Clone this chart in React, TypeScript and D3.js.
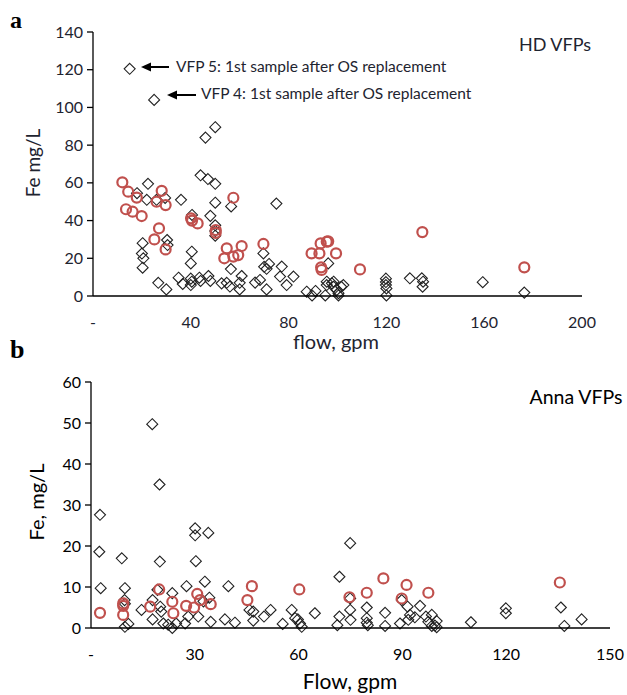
import React from "react";
import * as d3 from "d3";

// ---------- Panel a: HD VFPs ----------
const hdDiamonds: [number, number][] = [
  [15, 120.5], [25, 104], [46, 84], [50, 89.5],
  [44, 64], [47, 62], [50, 59.5], [22.5, 59.5],
  [18, 54.5], [22, 51], [26, 51], [29.5, 52], [36, 51], [50, 49.5],
  [48, 42.5], [40.5, 43], [50, 37.5], [50, 34.5], [50, 32],
  [56.5, 47.5], [75, 49],
  [20.3, 28], [20, 22.5], [20.6, 20], [20.3, 15],
  [30.3, 29.7], [30.5, 27], [40.4, 23.5], [40, 17.3],
  [26.7, 7], [30, 3.5],
  [35, 9.7], [36.7, 6.4], [40, 5.8], [40.4, 7.6], [40, 9.2], [43.5, 9.7], [47.2, 10.6], [48, 8], [44, 8],
  [52.6, 6.7], [54.7, 7], [56, 5], [56.4, 14.3], [60.8, 10.6], [60, 7], [60, 3.5],
  [66.3, 7.1], [68.3, 8.5], [69.7, 22.6], [70, 15.5], [71, 14.4], [72, 17], [71, 3.5],
  [76.5, 10.3], [77.2, 15.6], [79.2, 5.8], [82, 10.3],
  [87.4, 2.3], [89.6, 0.3], [91, 2.7],
  [96.2, 17.3], [95, 0.3], [95.6, 5.8], [95.6, 7.6], [97.7, 6.7], [98.4, 4.9], [98.4, 7.6],
  [99.7, 3.2], [100.4, 1.5], [100.4, 0.3], [101.5, 4.9], [102.4, 5.8],
  [119.8, 9.2], [119.8, 7.4], [119.8, 5.8], [120, 4], [120, 0.3],
  [129.6, 9.4], [134.5, 9.4], [135, 7.6], [134.8, 4.9],
  [159.4, 7.3], [176.4, 1.8],
];

const hdCircles: [number, number][] = [
  [12, 60.3], [14.4, 55.3], [17.9, 52.2], [13.5, 46], [16.2, 44.7], [19.9, 42.4],
  [28.1, 55.8], [26, 50], [29.7, 48.2], [27, 35.9], [25.1, 30], [29.7, 24.7],
  [40.1, 41.2], [40.5, 40], [42.8, 38.5], [50.2, 35], [50.2, 33.5],
  [57.4, 52.1], [54.7, 25.3], [53.7, 20], [57.4, 20.9], [59.4, 21.7], [60.8, 26.5],
  [69.7, 27.6],
  [89.4, 22.6], [92.6, 22.6], [93.1, 27.9], [95.6, 28.8], [96.2, 29], [99.4, 22.6],
  [93.3, 15.2], [93.5, 13.8], [109.2, 14.1], [134.7, 33.9], [176.4, 15.2],
];

const hdYTicks = [0, 20, 40, 60, 80, 100, 120, 140];
const hdXTicks = [0, 40, 80, 120, 160, 200];

// ---------- Panel b: Anna VFPs ----------
const annaDiamonds: [number, number][] = [
  [17.7, 49.7], [19.8, 35],
  [2.6, 27.6], [2.4, 18.6], [2.8, 9.7], [8.9, 17], [9.8, 9.7], [9.7, 6.8], [9.8, 5.9],
  [9.8, 0.3], [10.8, 1], [14.6, 4.4], [17.8, 2.1], [19.9, 16.2], [17.8, 6.8], [19.2, 9.3],
  [20, 5.2], [20.3, 4], [20.9, 1.1], [23.5, 8.5], [23.5, 0], [22.3, 0.8], [24.6, 1.1],
  [27.6, 10.2], [27.2, 1.1], [28.1, 2.8], [30.1, 24.3], [30.1, 22.6], [30.3, 16.3],
  [31, 2.8], [32.9, 11.3], [33.9, 23.2], [34.2, 7.4], [32.5, 6.5], [34.6, 1.5],
  [38.7, 2.1], [39.7, 10.2], [41.6, 1.3], [45.8, 4.4], [46.9, 4], [46.9, 1.8],
  [50, 2.8], [51.9, 4.4], [55.4, 1], [58, 4.4], [59, 2.4], [59.8, 2.1], [60.4, 1.1],
  [60.9, 0.3], [64.7, 3.6],
  [74.9, 20.7], [71.8, 12.5], [74.9, 7.2], [74.9, 4.4], [75, 2], [71.8, 2.8], [71.2, 0.7],
  [79.7, 5], [79.7, 2.4], [79.7, 1.3], [80, 0.7], [85, 3.7], [85, 0.5],
  [89.8, 6.8], [89.3, 1.1], [91.7, 2], [92.2, 3.2], [91.5, 5.2], [93.6, 2.6], [95.1, 5.4],
  [96.8, 2.8], [98.5, 3.2], [98.5, 0.5], [97.5, 1.5], [99.9, 1.7], [99.9, 0.2], [99.4, 0.6],
  [109.8, 1.4], [119.9, 4.8], [119.9, 3.6], [135.8, 5], [136.8, 0.5], [141.8, 2.1],
];

const annaCircles: [number, number][] = [
  [2.6, 3.7], [9.3, 6], [9.3, 5.4], [9.3, 3.2], [17.1, 5.2], [19.7, 9.4],
  [23.5, 6.4], [23.8, 3.6], [27.5, 5.4], [29.8, 5], [30.7, 8.3], [31.5, 6.8],
  [34.6, 5.8], [46.5, 10.2], [45.2, 6.8], [60.2, 9.4],
  [74.7, 7.5], [79.7, 8.6], [84.5, 12.1], [91.2, 10.5], [89.8, 7.2], [97.5, 8.6],
  [135.5, 11.1],
];

const annaYTicks = [0, 10, 20, 30, 40, 50, 60];
const annaXTicks = [0, 30, 60, 90, 120, 150];

const FONT = "Lato, 'Open Sans', sans-serif";
const RED = "#c0504d";

function diamondPath(cx: number, cy: number, r: number) {
  return `M${cx},${cy - r}L${cx + r},${cy}L${cx},${cy + r}L${cx - r},${cy}Z`;
}

type PanelProps = {
  x0: number; x1: number; y0: number; y1: number;
  xMax: number; yMax: number;
  xTicks: number[]; yTicks: number[];
  diamonds: [number, number][]; circles: [number, number][];
  tickSize: number; tickColor: string;
};

function Panel(p: PanelProps) {
  const x = d3.scaleLinear().domain([0, p.xMax]).range([p.x0, p.x1]);
  const y = d3.scaleLinear().domain([0, p.yMax]).range([p.y0, p.y1]);
  return (
    <g>
      {p.diamonds.map((d, i) => (
        <path key={"d" + i} d={diamondPath(x(d[0]), y(d[1]), 5.5)} fill="none" stroke="#222" strokeWidth={1.1} />
      ))}
      {p.circles.map((d, i) => (
        <circle key={"c" + i} cx={x(d[0])} cy={y(d[1])} r={5} fill="none" stroke={RED} strokeWidth={2.2} />
      ))}
      <line x1={p.x0} x2={p.x0} y1={p.y0} y2={p.y1} stroke="#000" strokeWidth={1.3} />
      <line x1={p.x0} x2={p.x1} y1={p.y0} y2={p.y0} stroke="#000" strokeWidth={1.3} />
      {p.yTicks.map((t) => (
        <g key={"yt" + t}>
          <line x1={p.x0 - 6} x2={p.x0} y1={y(t)} y2={y(t)} stroke="#000" strokeWidth={1.3} />
          <text x={p.x0 - 10} y={y(t)} dy="0.35em" textAnchor="end" fontFamily={FONT} fontSize={p.tickSize} fill={p.tickColor}>{t}</text>
        </g>
      ))}
      {p.xTicks.map((t) => (
        <text key={"xt" + t} x={x(t)} y={p.y0 + 26} dy="0.35em" textAnchor="middle" fontFamily={FONT} fontSize={p.tickSize} fill={p.tickColor}>
          {t === 0 ? "-" : t}
        </text>
      ))}
    </g>
  );
}

function Arrow({ x1, x2, y }: { x1: number; x2: number; y: number }) {
  return (
    <g>
      <line x1={x1 + 8} x2={x2} y1={y} y2={y} stroke="#000" strokeWidth={2} />
      <path d={`M${x1},${y}L${x1 + 10},${y - 4.5}L${x1 + 10},${y + 4.5}Z`} fill="#000" />
    </g>
  );
}

export default function App() {
  return (
    <svg width={627} height={695} style={{ position: "absolute", left: 0, top: 0, background: "#fff" }}>
      {/* panel a */}
      <text x={10} y={28} fontFamily="'Liberation Serif', 'DejaVu Serif', serif" fontWeight="bold" fontSize={24} fill="#000">a</text>
      <Panel x0={93} x1={582} y0={296} y1={32} xMax={200} yMax={140}
        xTicks={hdXTicks} yTicks={hdYTicks} diamonds={hdDiamonds} circles={hdCircles}
        tickSize={16} tickColor="#1e2430" />
      <text x={336} y={349} textAnchor="middle" fontFamily={FONT} fontSize={20} fill="#1e2430">flow, gpm</text>
      <text transform="translate(40,163) rotate(-90)" textAnchor="middle" fontFamily={FONT} fontSize={19} fill="#1e2430">Fe mg/L</text>
      <text x={555} y={51} textAnchor="middle" fontFamily={FONT} fontSize={18} fill="#1e2430">HD VFPs</text>
      <Arrow x1={141} x2={169} y={67} />
      <text x={176} y={72} fontFamily={FONT} fontSize={15.5} fill="#1e2430">VFP 5: 1st sample after OS replacement</text>
      <Arrow x1={167} x2={196} y={95} />
      <text x={201} y={99} fontFamily={FONT} fontSize={15.5} fill="#1e2430">VFP 4: 1st sample after OS replacement</text>

      {/* panel b */}
      <text x={10} y={358} fontFamily="'Liberation Serif', 'DejaVu Serif', serif" fontWeight="bold" fontSize={26} fill="#000">b</text>
      <Panel x0={91} x1={610} y0={628} y1={382} xMax={150} yMax={60}
        xTicks={annaXTicks} yTicks={annaYTicks} diamonds={annaDiamonds} circles={annaCircles}
        tickSize={16} tickColor="#000" />
      <text x={350} y={689} textAnchor="middle" fontFamily={FONT} fontSize={21} fill="#000">Flow, gpm</text>
      <text transform="translate(44,502) rotate(-90)" textAnchor="middle" fontFamily={FONT} fontSize={20} fill="#000">Fe, mg/L</text>
      <text x={576} y={404} textAnchor="middle" fontFamily={FONT} fontSize={19.5} fill="#000">Anna VFPs</text>
    </svg>
  );
}
